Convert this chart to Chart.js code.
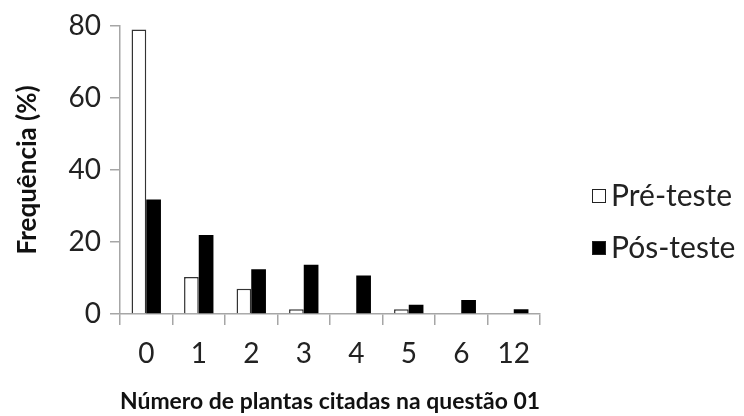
<!DOCTYPE html>
<html>
<head>
<meta charset="utf-8">
<script src="https://cdn.jsdelivr.net/npm/chart.js@4/dist/chart.umd.min.js"></script>
<style>
  html, body { margin: 0; padding: 0; background: #fff; }
  #wrap { position: relative; width: 744px; height: 416px; }
  #legend { position: absolute; left: 592px; top: 176px; font-family: Lato, sans-serif; font-size: 30px; line-height: 36px; color: #222; }
  #legend div { height: 52px; display: flex; align-items: flex-start; white-space: nowrap; }
  #legend span.box { display: inline-block; box-sizing: border-box; width: 14px; height: 14px; border: 1.5px solid #222; margin: 13px 5px 0 0; }
</style>
</head>
<body>
<div id="wrap">
  <canvas id="chart" width="744" height="416"></canvas>
  <div id="legend"></div>
</div>
<script>
// Número de plantas citadas - frequência (%)
const categories = ['0', '1', '2', '3', '4', '5', '6', '12'];
const preTeste = [79, 10.3, 7, 1.3, 0, 1.3, 0, 0];
const posTeste = [31.8, 21.9, 12.4, 13.7, 10.7, 2.6, 3.9, 1.3];
const seriesNames = ['Pré-teste', 'Pós-teste'];
const yTicks = [0, 20, 40, 60, 80];

const axisGrey = '#a6a6a6';
const font = 'Lato, sans-serif';

const ctx = document.getElementById('chart');
const chart = new Chart(ctx, {
    type: 'bar',
    data: {
        labels: categories,
        datasets: [{
            label: seriesNames[0],
            data: preTeste,
            backgroundColor: '#ffffff',
            borderColor: '#333333',
            borderWidth: 1.5,
            borderSkipped: 'bottom',
            categoryPercentage: 0.56,
            barPercentage: 1
        }, {
            label: seriesNames[1],
            data: posTeste,
            backgroundColor: '#000000',
            borderColor: '#000000',
            borderWidth: 0,
            categoryPercentage: 0.56,
            barPercentage: 1
        }]
    },
    options: {
        responsive: false,
        animation: false,
        layout: {
            padding: { top: 25, right: 204, bottom: 0, left: 0 }
        },
        plugins: {
            legend: { display: false },
            tooltip: { enabled: false }
        },
        scales: {
            x: {
                grid: {
                    offset: true,
                    drawOnChartArea: false,
                    drawTicks: true,
                    tickLength: 11,
                    color: axisGrey,
                    lineWidth: 1.5
                },
                border: { display: true, color: axisGrey, width: 1.5 },
                ticks: {
                    color: '#222',
                    font: { family: font, size: 28 },
                    padding: 12
                },
                title: {
                    display: true,
                    text: 'Número de plantas citadas na questão 01',
                    color: '#111',
                    font: { family: font, size: 23, weight: 'bold' },
                    padding: { top: 8, bottom: 1 }
                },
                afterFit: function(scale) { scale.height = 102; }
            },
            y: {
                min: 0,
                max: 80,
                afterBuildTicks: function(scale) {
                    scale.ticks = yTicks.map(v => ({ value: v }));
                },
                grid: {
                    drawOnChartArea: false,
                    drawTicks: true,
                    tickLength: 10,
                    color: axisGrey,
                    lineWidth: 1.5
                },
                border: { display: true, color: axisGrey, width: 1.5 },
                ticks: {
                    color: '#222',
                    font: { family: font, size: 28 },
                    padding: 9
                },
                title: {
                    display: true,
                    text: 'Frequência (%)',
                    color: '#111',
                    font: { family: font, size: 26, weight: 'bold' },
                    padding: { top: 12, bottom: 6 }
                },
                afterFit: function(scale) { scale.width = 120; }
            }
        }
    }
});

// legend on the right
const legendEl = document.getElementById('legend');
chart.data.datasets.forEach(ds => {
    const row = document.createElement('div');
    const box = document.createElement('span');
    box.className = 'box';
    box.style.background = ds.backgroundColor;
    row.appendChild(box);
    row.appendChild(document.createTextNode(ds.label));
    legendEl.appendChild(row);
});
</script>
</body>
</html>
